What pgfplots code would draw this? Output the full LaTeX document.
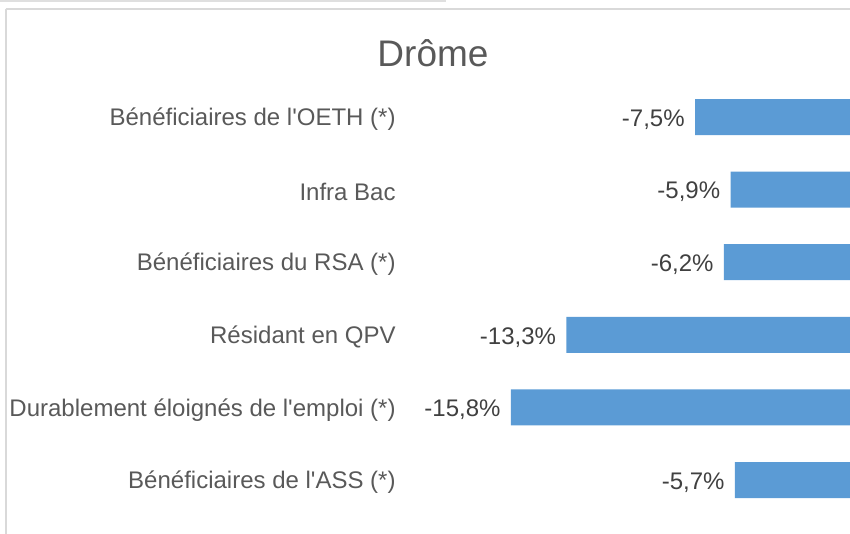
\documentclass[border=0pt]{standalone}
\usepackage{fontspec}
\setmainfont{Liberation Sans}
\usepackage{pgfplots}
\pgfplotsset{compat=1.18}
\definecolor{barblue}{HTML}{5B9BD5}
\definecolor{labgray}{HTML}{595959}
\definecolor{valgray}{HTML}{404040}
\begin{document}
\begin{tikzpicture}
% 1 px of the reference = 0.5pt
\useasboundingbox (0,0) rectangle (425pt,267pt);
\draw[gray!25, line width=1pt] (0,266.5pt) -- (223pt,266.5pt);
\draw[gray!30, line width=1pt] (2.75pt,262.25pt) -- (425pt,262.25pt);
\draw[gray!30, line width=1pt] (2.75pt,262.25pt) -- (2.75pt,0);
\node[font=\fontsize{18.5}{22}\selectfont, text=labgray] at (216.5pt,240.5pt) {Drôme};
\begin{axis}[
    at={(200pt,8.85pt)}, anchor=south west,
    scale only axis, width=225pt, height=217.8pt,
    xbar, bar width=18pt,
    xmin=-20.80, xmax=-0.514,
    ymin=-0.5, ymax=5.5, y dir=reverse,
    axis line style={draw=none},
    xtick=\empty,
    ytick={0,...,5},
    yticklabels={Bénéficiaires de l\textquotesingle OETH (*), Infra Bac, Bénéficiaires du RSA (*), Résidant en QPV, Durablement éloignés de l\textquotesingle emploi (*), Bénéficiaires de l\textquotesingle ASS (*)},
    yticklabel style={font=\fontsize{12}{14}\selectfont, text=labgray, anchor=east, inner xsep=0pt, xshift=-2pt, yshift=-1.2pt},
    major tick length=0pt,
    nodes near coords={\pgfmathprintnumber[fixed, fixed zerofill, precision=1, use comma, assume math mode=true]{\pgfplotspointmeta}\%},
    point meta=x,
    every node near coord/.append style={font=\fontsize{12}{14}\selectfont, text=valgray, anchor=east, inner xsep=0pt, xshift=-5pt, yshift=-1.2pt},
]
\addplot[fill=barblue, draw=none] coordinates {
    (-7.5,0) (-5.9,1) (-6.2,2) (-13.3,3) (-15.8,4) (-5.7,5)
};
\end{axis}
\end{tikzpicture}
\end{document}
